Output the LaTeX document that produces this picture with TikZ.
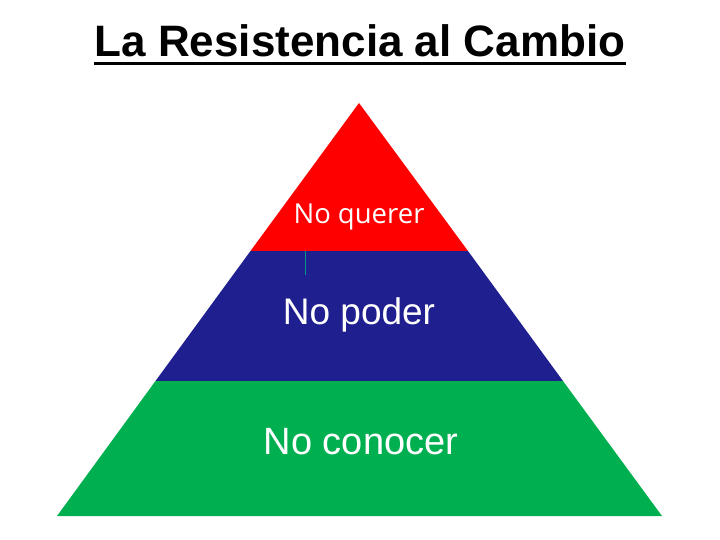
\documentclass[tikz,border=0pt]{standalone}
\usepackage{fontspec}
\setmainfont{Liberation Sans}
\newfontfamily\opensans{Open Sans}
\definecolor{pred}{RGB}{255,0,0}
\definecolor{pblue}{RGB}{31,31,143}
\definecolor{pgreen}{RGB}{0,176,80}
\definecolor{pteal}{RGB}{0,150,130}
\begin{document}
\begin{tikzpicture}[x=1pt,y=-1pt,
  lbl/.style={anchor=base,inner sep=0,text=white},
  band/.style={draw=none}]
\useasboundingbox (0,0) rectangle (720,540);
\coordinate (apex) at (359,103);
\coordinate (bl) at (57,516);
\coordinate (br) at (662,516);
\coordinate (rl) at (250.5,251);
\coordinate (rr) at (468,251);
\coordinate (gl) at (155.5,381);
\coordinate (gr) at (563,381);
\fill[pred] (apex) -- (rr) -- (rl) -- cycle;
\fill[pblue] (rl) -- (rr) -- (gr) -- (gl) -- cycle;
\fill[pgreen] (gl) -- (gr) -- (br) -- (bl) -- cycle;
\coordinate (tk1) at (305.3,251);
\coordinate (tk2) at (305.3,275);
\draw[pteal,line width=1pt] (tk1) -- (tk2);
\node[lbl,font=\opensans\fontsize{27.5}{30}\selectfont] (q) at (359,223) {No querer};
\node[lbl,font=\fontsize{37}{40}\selectfont] (p) at (359,324) {No poder};
\node[lbl,font=\fontsize{38}{42}\selectfont] (c) at (361,454) {No conocer};
\node[anchor=base,inner sep=0,font=\bfseries\fontsize{44}{48}\selectfont] (t) at (360,57) {La Resistencia al Cambio};
\draw[line width=3pt] ([yshift=-6.5pt]t.base west) -- ([yshift=-6.5pt]t.base east);
\end{tikzpicture}
\end{document}
